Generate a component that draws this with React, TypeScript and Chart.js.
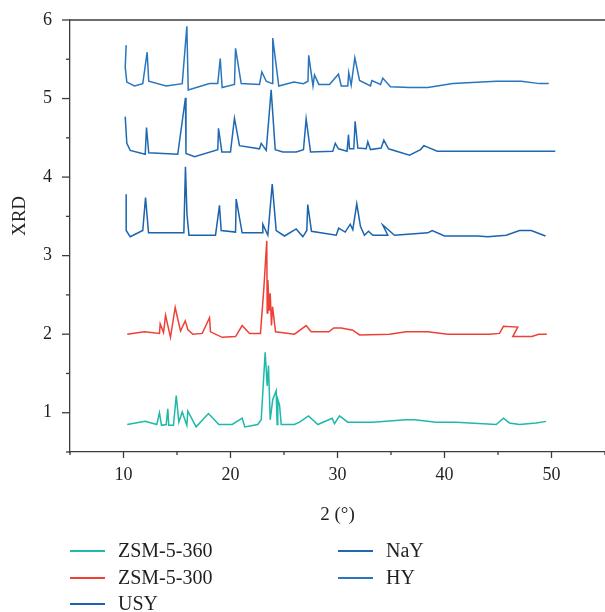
import React, { useEffect, useRef } from 'react';
import { Chart, registerables } from 'chart.js';

Chart.register(...registerables);

// ---- tick values ----
const xTickLabels = [10, 20, 30, 40, 50];
const xMinorTicks = [5, 15, 25, 35, 45, 55];
const yTickLabels = [1, 2, 3, 4, 5, 6];
const yMinorTicks = [0.5, 1.5, 2.5, 3.5, 4.5, 5.5];

const xTitle = '2 (°)';
const yTitle = 'XRD';

// ---- series ----
const seriesNames = ['ZSM-5-360', 'ZSM-5-300', 'USY', 'NaY', 'HY'];
const seriesColors = ['#1db9a9', '#ee4036', '#1b63ae', '#1f69b3', '#2a75bf'];

const zsm360X = [10.35, 12.03, 13.11, 13.36, 13.55, 13.99, 14.14, 14.23, 14.67, 14.93, 15.17, 15.49, 15.92, 16.01, 16.79, 17.94, 18.91, 20.16, 21.09, 21.34, 22.55, 22.87, 23.24, 23.43, 23.55, 23.71, 23.95, 24.27, 24.36, 24.42, 24.58, 24.74, 25.98, 26.45, 27.29, 28.16, 29.5, 29.72, 30.19, 30.96, 33.3, 36.42, 37.2, 39.22, 41.09, 44.83, 45.51, 46.07, 47.01, 48.57, 49.5];
const zsm360Y = [0.85, 0.89, 0.85, 1.0, 0.84, 0.85, 1.05, 0.84, 0.84, 1.22, 0.88, 1.01, 0.84, 1.02, 0.82, 0.99, 0.85, 0.85, 0.93, 0.82, 0.85, 0.91, 1.77, 1.34, 1.6, 0.91, 1.17, 1.28, 0.85, 1.17, 1.1, 0.85, 0.85, 0.88, 0.96, 0.85, 0.93, 0.86, 0.96, 0.88, 0.88, 0.91, 0.91, 0.88, 0.88, 0.85, 0.93, 0.87, 0.85, 0.87, 0.89];

const zsm300X = [10.35, 11.96, 13.36, 13.43, 13.74, 13.93, 14.39, 14.83, 15.33, 15.77, 16.01, 16.48, 17.36, 18.04, 18.13, 19.22, 20.47, 21.09, 21.78, 22.8, 23.11, 23.39, 23.43, 23.49, 23.62, 23.71, 23.83, 23.93, 24.21, 25.98, 27.07, 27.54, 29.19, 29.65, 30.35, 31.43, 32.06, 34.86, 36.42, 38.44, 40.31, 44.21, 45.14, 45.51, 46.85, 46.38, 48.16, 48.81, 49.56];
const zsm300Y = [2.0, 2.03, 2.01, 2.13, 2.02, 2.24, 1.96, 2.34, 2.04, 2.17, 2.06, 2.0, 2.01, 2.21, 2.03, 1.96, 1.97, 2.11, 2.01, 2.01, 2.57, 3.19, 2.27, 2.69, 2.3, 2.52, 2.11, 2.35, 2.03, 2.0, 2.11, 2.03, 2.03, 2.08, 2.08, 2.05, 1.99, 2.0, 2.03, 2.03, 2.0, 2.0, 2.01, 2.1, 2.09, 1.97, 1.97, 2.0, 2.0];

const usyX = [10.25, 10.25, 10.63, 11.8, 12.06, 12.34, 15.64, 15.79, 15.93, 16.12, 18.6, 18.97, 19.13, 20.47, 20.53, 21.09, 22.96, 23.02, 23.49, 23.9, 24.27, 25.05, 26.14, 26.76, 27.13, 27.22, 27.57, 29.88, 30.11, 30.72, 31.19, 31.43, 31.8, 32.15, 32.52, 32.9, 33.3, 34.7, 34.23, 35.33, 38.44, 38.85, 40.0, 43.11, 44.05, 45.77, 47.01, 48.1, 49.44];
const usyY = [3.78, 3.32, 3.24, 3.32, 3.74, 3.29, 3.29, 4.13, 3.53, 3.26, 3.26, 3.64, 3.32, 3.3, 3.72, 3.29, 3.29, 3.4, 3.26, 3.91, 3.32, 3.25, 3.34, 3.24, 3.32, 3.65, 3.31, 3.26, 3.35, 3.3, 3.4, 3.33, 3.66, 3.37, 3.26, 3.31, 3.26, 3.26, 3.39, 3.26, 3.29, 3.32, 3.25, 3.25, 3.24, 3.26, 3.32, 3.32, 3.25];

const nayX = [10.16, 10.31, 10.63, 12.03, 12.15, 12.36, 15.07, 15.79, 15.84, 16.64, 18.81, 18.88, 19.19, 20.0, 20.37, 20.84, 22.71, 22.87, 23.34, 23.8, 24.18, 24.89, 26.14, 26.82, 27.07, 27.48, 29.56, 29.79, 30.09, 30.89, 31.03, 31.12, 31.52, 31.65, 31.9, 32.68, 32.83, 33.08, 34.08, 34.33, 34.77, 36.73, 37.76, 38.07, 39.32, 50.35];
const nayY = [4.77, 4.43, 4.34, 4.29, 4.63, 4.31, 4.29, 5.01, 4.3, 4.26, 4.35, 4.62, 4.32, 4.32, 4.75, 4.4, 4.36, 4.43, 4.34, 5.11, 4.35, 4.32, 4.32, 4.35, 4.74, 4.32, 4.33, 4.43, 4.36, 4.33, 4.54, 4.36, 4.36, 4.71, 4.37, 4.36, 4.45, 4.35, 4.37, 4.47, 4.36, 4.28, 4.35, 4.4, 4.33, 4.33];

const hyX = [10.25, 10.16, 10.31, 11.03, 11.8, 12.21, 12.36, 13.99, 15.49, 15.92, 16.05, 18.04, 18.81, 19.04, 19.22, 20.37, 20.47, 21.0, 22.71, 22.93, 23.34, 23.9, 23.95, 24.51, 25.92, 26.82, 27.24, 27.31, 27.71, 27.85, 28.25, 29.25, 30.09, 30.35, 30.96, 31.05, 31.28, 31.62, 32.06, 33.08, 33.21, 34.02, 34.23, 34.95, 36.73, 38.44, 40.78, 44.83, 47.17, 48.88, 49.75];
const hyY = [5.68, 5.4, 5.21, 5.16, 5.19, 5.59, 5.22, 5.16, 5.19, 5.92, 5.11, 5.19, 5.19, 5.51, 5.14, 5.18, 5.64, 5.19, 5.18, 5.34, 5.22, 5.19, 5.77, 5.16, 5.21, 5.19, 5.22, 5.55, 5.16, 5.3, 5.18, 5.18, 5.31, 5.16, 5.16, 5.33, 5.17, 5.52, 5.23, 5.16, 5.23, 5.18, 5.26, 5.15, 5.14, 5.14, 5.19, 5.22, 5.22, 5.19, 5.19];

const seriesX = [zsm360X, zsm300X, usyX, nayX, hyX];
const seriesY = [zsm360Y, zsm300Y, usyY, nayY, hyY];

const FONT = '"Liberation Serif", "Times New Roman", serif';
const TEXT = '#231f20';
const AXIS = '#3c3c3c';

const decorPlugin = {
  id: 'decor',
  afterDraw(chart: any) {
    const { ctx, chartArea } = chart;
    const xs = chart.scales.x;
    const ys = chart.scales.y;
    const { left, right, top, bottom } = chartArea;
    ctx.save();
    ctx.strokeStyle = AXIS;
    ctx.lineWidth = 1.3;
    // top frame line
    ctx.beginPath();
    ctx.moveTo(left, top);
    ctx.lineTo(right, top);
    ctx.stroke();
    const tick = (x1: number, y1: number, x2: number, y2: number) => {
      ctx.beginPath();
      ctx.moveTo(x1, y1);
      ctx.lineTo(x2, y2);
      ctx.stroke();
    };
    xTickLabels.forEach((v) => {
      const p = xs.getPixelForValue(v);
      tick(p, bottom, p, bottom + 6);
    });
    xMinorTicks.forEach((v) => {
      const p = xs.getPixelForValue(v);
      tick(p, bottom, p, bottom + 3);
    });
    yTickLabels.forEach((v) => {
      const p = ys.getPixelForValue(v);
      tick(left - 8, p, left, p);
    });
    yMinorTicks.forEach((v) => {
      const p = ys.getPixelForValue(v);
      tick(left - 4, p, left, p);
    });

    // axis titles
    ctx.fillStyle = TEXT;
    ctx.font = `19px ${FONT}`;
    ctx.textAlign = 'center';
    ctx.textBaseline = 'middle';
    ctx.fillText(xTitle, (left + right) / 2, 515);
    ctx.save();
    ctx.translate(20, 216);
    ctx.rotate(-Math.PI / 2);
    ctx.fillText(yTitle, 0, 0);
    ctx.restore();

    // legend
    const rowsY = [551, 578, 604];
    const colsX = [70, 338];
    chart.data.datasets.forEach((ds: any, i: number) => {
      const col = i < 3 ? 0 : 1;
      const row = i < 3 ? i : i - 3;
      const x0 = colsX[col];
      const y0 = rowsY[row];
      ctx.strokeStyle = ds.borderColor;
      ctx.lineWidth = 2;
      ctx.beginPath();
      ctx.moveTo(x0, y0);
      ctx.lineTo(x0 + 35, y0);
      ctx.stroke();
      ctx.fillStyle = TEXT;
      ctx.font = `20px ${FONT}`;
      ctx.textAlign = 'left';
      ctx.textBaseline = 'middle';
      ctx.fillText(ds.label, x0 + 48, y0 + 1);
    });
    ctx.restore();
  },
};

export default function App() {
  const canvasRef = useRef<HTMLCanvasElement | null>(null);

  useEffect(() => {
    const canvas = canvasRef.current;
    if (!canvas) return;
    const datasets = seriesNames.map((name, i) => ({
      label: name,
      data: seriesX[i].map((x, j) => ({ x, y: seriesY[i][j] })),
      borderColor: seriesColors[i],
      backgroundColor: seriesColors[i],
      borderWidth: 1.5,
      showLine: true,
      pointRadius: 0,
      tension: 0,
    }));
    const chart = new Chart(canvas, {
      type: 'scatter',
      data: { datasets },
      options: {
        responsive: false,
        animation: false,
        layout: { padding: { top: 20, right: 0, left: 0, bottom: 0 } },
        plugins: { legend: { display: false }, tooltip: { enabled: false } },
        scales: {
          x: {
            type: 'linear',
            min: 5,
            max: 55,
            afterBuildTicks: (s: any) => {
              s.ticks = xTickLabels.map((v) => ({ value: v }));
            },
            afterFit: (s: any) => {
              s.height = 160;
              s.paddingLeft = 0;
              s.paddingRight = 0;
            },
            grid: { display: false, drawTicks: false },
            border: { display: true, color: AXIS, width: 1.3 },
            ticks: {
              padding: 12,
              autoSkip: false,
              maxRotation: 0,
              color: TEXT,
              font: { family: FONT, size: 18 },
            },
          },
          y: {
            type: 'linear',
            min: 0.5,
            max: 6,
            afterBuildTicks: (s: any) => {
              s.ticks = yTickLabels.map((v) => ({ value: v }));
            },
            afterFit: (s: any) => {
              s.width = 70;
              s.paddingTop = 0;
              s.paddingBottom = 0;
            },
            grid: { display: false, drawTicks: false },
            border: { display: true, color: AXIS, width: 1.3 },
            ticks: {
              padding: 18,
              color: TEXT,
              font: { family: FONT, size: 18 },
            },
          },
        },
      },
      plugins: [decorPlugin],
    });
    return () => chart.destroy();
  }, []);

  return (
    <div style={{ position: 'absolute', left: 0, top: 0, width: 605, height: 612, background: '#fff' }}>
      <canvas ref={canvasRef} width={605} height={612} style={{ width: 605, height: 612, display: 'block' }} />
    </div>
  );
}
